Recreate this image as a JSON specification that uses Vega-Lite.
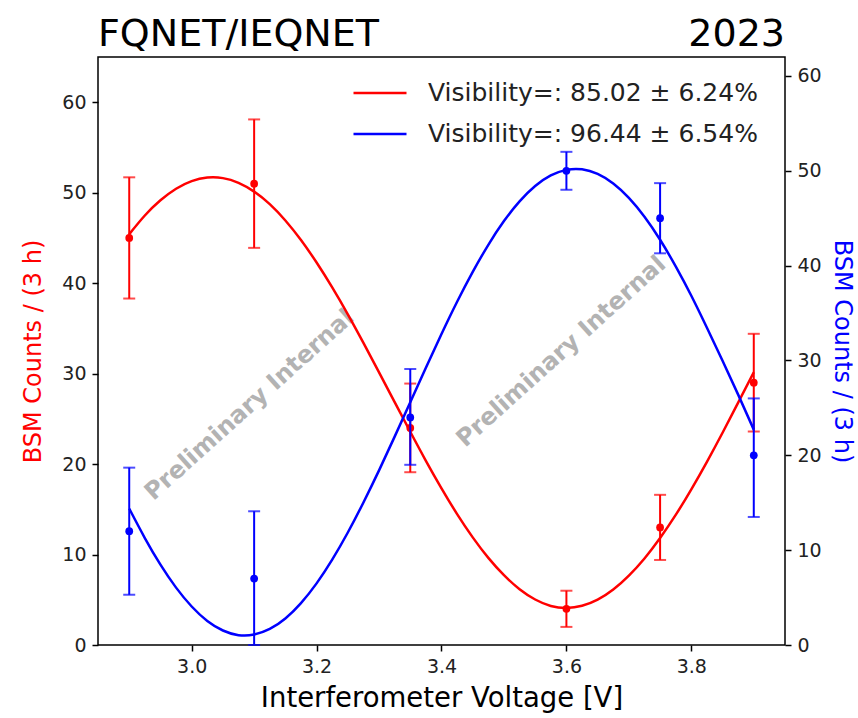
{
  "$schema": "https://vega.github.io/schema/vega-lite/v6.json",
  "width": 687,
  "height": 588,
  "autosize": {"type": "none"},
  "padding": {"left": 98, "top": 57, "right": 73, "bottom": 73},
  "background": "white",
  "config": {
    "font": "DejaVu Sans",
    "view": {"stroke": "black", "strokeWidth": 1.5},
    "axis": {
      "labelFont": "DejaVu Sans",
      "titleFont": "DejaVu Sans",
      "labelFontSize": 19,
      "titleFontWeight": "normal",
      "labelColor": "#222222",
      "tickColor": "black",
      "tickWidth": 1.5,
      "tickSize": 6,
      "domain": false,
      "grid": false
    }
  },
  "datasets": {
    "red_pts": [
      {"x": 2.9, "y": 45, "lo": 38.3, "hi": 51.7},
      {"x": 3.1, "y": 51, "lo": 43.9, "hi": 58.1},
      {"x": 3.35, "y": 24, "lo": 19.1, "hi": 28.9},
      {"x": 3.6, "y": 4, "lo": 2, "hi": 6},
      {"x": 3.75, "y": 13, "lo": 9.4, "hi": 16.6},
      {"x": 3.9, "y": 29, "lo": 23.6, "hi": 34.4}
    ],
    "blue_pts": [
      {"x": 2.9, "y": 12, "lo": 5.3, "hi": 18.7},
      {"x": 3.1, "y": 7, "lo": 0, "hi": 14.1},
      {"x": 3.35, "y": 24, "lo": 19, "hi": 29.1},
      {"x": 3.6, "y": 50, "lo": 48, "hi": 52},
      {"x": 3.75, "y": 45, "lo": 41.3, "hi": 48.7},
      {"x": 3.9, "y": 20, "lo": 13.5, "hi": 26}
    ],
    "red_curve": [
      {"x": 2.9, "y": 45.41, "series": "Visibility=: 85.02 ± 6.24%"},
      {"x": 2.925, "y": 47.48, "series": "Visibility=: 85.02 ± 6.24%"},
      {"x": 2.95, "y": 49.16, "series": "Visibility=: 85.02 ± 6.24%"},
      {"x": 2.975, "y": 50.44, "series": "Visibility=: 85.02 ± 6.24%"},
      {"x": 3.0, "y": 51.28, "series": "Visibility=: 85.02 ± 6.24%"},
      {"x": 3.025, "y": 51.67, "series": "Visibility=: 85.02 ± 6.24%"},
      {"x": 3.05, "y": 51.61, "series": "Visibility=: 85.02 ± 6.24%"},
      {"x": 3.075, "y": 51.09, "series": "Visibility=: 85.02 ± 6.24%"},
      {"x": 3.1, "y": 50.12, "series": "Visibility=: 85.02 ± 6.24%"},
      {"x": 3.125, "y": 48.73, "series": "Visibility=: 85.02 ± 6.24%"},
      {"x": 3.15, "y": 46.93, "series": "Visibility=: 85.02 ± 6.24%"},
      {"x": 3.175, "y": 44.77, "series": "Visibility=: 85.02 ± 6.24%"},
      {"x": 3.2, "y": 42.28, "series": "Visibility=: 85.02 ± 6.24%"},
      {"x": 3.225, "y": 39.53, "series": "Visibility=: 85.02 ± 6.24%"},
      {"x": 3.25, "y": 36.56, "series": "Visibility=: 85.02 ± 6.24%"},
      {"x": 3.275, "y": 33.4, "series": "Visibility=: 85.02 ± 6.24%"},
      {"x": 3.3, "y": 30.14, "series": "Visibility=: 85.02 ± 6.24%"},
      {"x": 3.325, "y": 26.84, "series": "Visibility=: 85.02 ± 6.24%"},
      {"x": 3.35, "y": 23.57, "series": "Visibility=: 85.02 ± 6.24%"},
      {"x": 3.375, "y": 20.36, "series": "Visibility=: 85.02 ± 6.24%"},
      {"x": 3.4, "y": 17.32, "series": "Visibility=: 85.02 ± 6.24%"},
      {"x": 3.425, "y": 14.47, "series": "Visibility=: 85.02 ± 6.24%"},
      {"x": 3.45, "y": 11.9, "series": "Visibility=: 85.02 ± 6.24%"},
      {"x": 3.475, "y": 9.63, "series": "Visibility=: 85.02 ± 6.24%"},
      {"x": 3.5, "y": 7.72, "series": "Visibility=: 85.02 ± 6.24%"},
      {"x": 3.525, "y": 6.17, "series": "Visibility=: 85.02 ± 6.24%"},
      {"x": 3.55, "y": 5.03, "series": "Visibility=: 85.02 ± 6.24%"},
      {"x": 3.575, "y": 4.32, "series": "Visibility=: 85.02 ± 6.24%"},
      {"x": 3.6, "y": 4.1, "series": "Visibility=: 85.02 ± 6.24%"},
      {"x": 3.625, "y": 4.33, "series": "Visibility=: 85.02 ± 6.24%"},
      {"x": 3.65, "y": 5.01, "series": "Visibility=: 85.02 ± 6.24%"},
      {"x": 3.675, "y": 6.13, "series": "Visibility=: 85.02 ± 6.24%"},
      {"x": 3.7, "y": 7.67, "series": "Visibility=: 85.02 ± 6.24%"},
      {"x": 3.725, "y": 9.57, "series": "Visibility=: 85.02 ± 6.24%"},
      {"x": 3.75, "y": 11.83, "series": "Visibility=: 85.02 ± 6.24%"},
      {"x": 3.775, "y": 14.38, "series": "Visibility=: 85.02 ± 6.24%"},
      {"x": 3.8, "y": 17.21, "series": "Visibility=: 85.02 ± 6.24%"},
      {"x": 3.825, "y": 20.25, "series": "Visibility=: 85.02 ± 6.24%"},
      {"x": 3.85, "y": 23.46, "series": "Visibility=: 85.02 ± 6.24%"},
      {"x": 3.875, "y": 26.79, "series": "Visibility=: 85.02 ± 6.24%"},
      {"x": 3.9, "y": 30.15, "series": "Visibility=: 85.02 ± 6.24%"}
    ],
    "blue_curve": [
      {"x": 2.9, "y": 14.38, "series": "Visibility=: 96.44 ± 6.54%"},
      {"x": 2.925, "y": 11.28, "series": "Visibility=: 96.44 ± 6.54%"},
      {"x": 2.95, "y": 8.47, "series": "Visibility=: 96.44 ± 6.54%"},
      {"x": 2.975, "y": 6.05, "series": "Visibility=: 96.44 ± 6.54%"},
      {"x": 3.0, "y": 4.06, "series": "Visibility=: 96.44 ± 6.54%"},
      {"x": 3.025, "y": 2.54, "series": "Visibility=: 96.44 ± 6.54%"},
      {"x": 3.05, "y": 1.53, "series": "Visibility=: 96.44 ± 6.54%"},
      {"x": 3.075, "y": 1.04, "series": "Visibility=: 96.44 ± 6.54%"},
      {"x": 3.1, "y": 1.1, "series": "Visibility=: 96.44 ± 6.54%"},
      {"x": 3.125, "y": 1.69, "series": "Visibility=: 96.44 ± 6.54%"},
      {"x": 3.15, "y": 2.8, "series": "Visibility=: 96.44 ± 6.54%"},
      {"x": 3.175, "y": 4.42, "series": "Visibility=: 96.44 ± 6.54%"},
      {"x": 3.2, "y": 6.5, "series": "Visibility=: 96.44 ± 6.54%"},
      {"x": 3.225, "y": 9.0, "series": "Visibility=: 96.44 ± 6.54%"},
      {"x": 3.25, "y": 11.86, "series": "Visibility=: 96.44 ± 6.54%"},
      {"x": 3.275, "y": 15.03, "series": "Visibility=: 96.44 ± 6.54%"},
      {"x": 3.3, "y": 18.41, "series": "Visibility=: 96.44 ± 6.54%"},
      {"x": 3.325, "y": 21.97, "series": "Visibility=: 96.44 ± 6.54%"},
      {"x": 3.35, "y": 25.6, "series": "Visibility=: 96.44 ± 6.54%"},
      {"x": 3.375, "y": 29.23, "series": "Visibility=: 96.44 ± 6.54%"},
      {"x": 3.4, "y": 32.79, "series": "Visibility=: 96.44 ± 6.54%"},
      {"x": 3.425, "y": 36.19, "series": "Visibility=: 96.44 ± 6.54%"},
      {"x": 3.45, "y": 39.34, "series": "Visibility=: 96.44 ± 6.54%"},
      {"x": 3.475, "y": 42.2, "series": "Visibility=: 96.44 ± 6.54%"},
      {"x": 3.5, "y": 44.7, "series": "Visibility=: 96.44 ± 6.54%"},
      {"x": 3.525, "y": 46.78, "series": "Visibility=: 96.44 ± 6.54%"},
      {"x": 3.55, "y": 48.4, "series": "Visibility=: 96.44 ± 6.54%"},
      {"x": 3.575, "y": 49.51, "series": "Visibility=: 96.44 ± 6.54%"},
      {"x": 3.6, "y": 50.1, "series": "Visibility=: 96.44 ± 6.54%"},
      {"x": 3.625, "y": 50.16, "series": "Visibility=: 96.44 ± 6.54%"},
      {"x": 3.65, "y": 49.67, "series": "Visibility=: 96.44 ± 6.54%"},
      {"x": 3.675, "y": 48.66, "series": "Visibility=: 96.44 ± 6.54%"},
      {"x": 3.7, "y": 47.14, "series": "Visibility=: 96.44 ± 6.54%"},
      {"x": 3.725, "y": 45.15, "series": "Visibility=: 96.44 ± 6.54%"},
      {"x": 3.75, "y": 42.73, "series": "Visibility=: 96.44 ± 6.54%"},
      {"x": 3.775, "y": 39.92, "series": "Visibility=: 96.44 ± 6.54%"},
      {"x": 3.8, "y": 36.82, "series": "Visibility=: 96.44 ± 6.54%"},
      {"x": 3.825, "y": 33.45, "series": "Visibility=: 96.44 ± 6.54%"},
      {"x": 3.85, "y": 29.98, "series": "Visibility=: 96.44 ± 6.54%"},
      {"x": 3.875, "y": 26.4, "series": "Visibility=: 96.44 ± 6.54%"},
      {"x": 3.9, "y": 22.71, "series": "Visibility=: 96.44 ± 6.54%"}
    ],
    "watermark": [
      {"x": 3.093, "y": 26.5, "t": "Preliminary Internal"},
      {"x": 3.592, "y": 32.4, "t": "Preliminary Internal"}
    ],
    "title_left": [{"x": 2.85, "y": 65, "t": "FQNET/IEQNET"}],
    "title_right": [{"x": 3.95, "y": 65, "t": "2023"}]
  },
  "layer": [
    {
      "encoding": {
        "x": {"field": "x", "type": "quantitative", "scale": {"domain": [2.85, 3.95], "nice": false, "zero": false},
          "axis": {"values": [3.0, 3.2, 3.4, 3.6, 3.8], "format": ".1f", "title": "Interferometer Voltage [V]", "titleFontSize": 27.5, "titleColor": "black", "titlePadding": 8, "labelPadding": 6}}
      },
      "layer": [
        {
          "data": {"name": "watermark"},
          "mark": {"type": "text", "angle": 318, "fontSize": 24, "fontWeight": "bold", "color": "#a6a6a6", "opacity": 0.85, "align": "center", "baseline": "middle"},
          "encoding": {
            "y": {"field": "y", "type": "quantitative", "scale": {"domain": [0, 65], "nice": false, "zero": false},
              "axis": {"orient": "left", "values": [0, 10, 20, 30, 40, 50, 60], "title": "BSM Counts / (3 h)", "titleColor": "#ff0000", "titleFontSize": 24, "titlePadding": 16, "labelPadding": 6}},
            "text": {"field": "t"}
          }
        },
        {
          "data": {"name": "title_left"},
          "mark": {"type": "text", "fontSize": 38, "color": "black", "baseline": "alphabetic", "align": "left", "dy": -11},
          "encoding": {
            "y": {"field": "y", "type": "quantitative", "axis": {"orient": "left", "values": [0, 10, 20, 30, 40, 50, 60], "title": "BSM Counts / (3 h)", "titleColor": "#ff0000", "titleFontSize": 24, "titlePadding": 16, "labelPadding": 6}},
            "text": {"field": "t"}
          }
        },
        {
          "data": {"name": "title_right"},
          "mark": {"type": "text", "fontSize": 38, "color": "black", "baseline": "alphabetic", "align": "right", "dy": -11},
          "encoding": {
            "y": {"field": "y", "type": "quantitative", "axis": {"orient": "left", "values": [0, 10, 20, 30, 40, 50, 60], "title": "BSM Counts / (3 h)", "titleColor": "#ff0000", "titleFontSize": 24, "titlePadding": 16, "labelPadding": 6}},
            "text": {"field": "t"}
          }
        },
        {
          "data": {"name": "red_curve"},
          "mark": {"type": "line", "strokeWidth": 2.5, "interpolate": "natural"},
          "encoding": {
            "y": {"field": "y", "type": "quantitative", "axis": {"orient": "left", "values": [0, 10, 20, 30, 40, 50, 60], "title": "BSM Counts / (3 h)", "titleColor": "#ff0000", "titleFontSize": 24, "titlePadding": 16, "labelPadding": 6}},
            "color": {"field": "series", "type": "nominal",
              "scale": {"domain": ["Visibility=: 85.02 ± 6.24%", "Visibility=: 96.44 ± 6.54%"], "range": ["#ff0000", "#0000ff"]},
              "legend": {"orient": "none", "legendX": 254, "legendY": 8, "title": null, "labelFontSize": 25, "labelColor": "#222222", "labelFont": "DejaVu Sans", "labelLimit": 500, "symbolType": "stroke", "symbolSize": 2809, "symbolStrokeWidth": 2.5, "rowPadding": -13, "labelOffset": 20}}
          }
        },
        {
          "data": {"name": "red_pts"},
          "mark": {"type": "rule", "color": "#ff0000", "strokeWidth": 2},
          "encoding": {
            "y": {"field": "lo", "type": "quantitative", "axis": {"orient": "left", "values": [0, 10, 20, 30, 40, 50, 60], "title": "BSM Counts / (3 h)", "titleColor": "#ff0000", "titleFontSize": 24, "titlePadding": 16, "labelPadding": 6}},
            "y2": {"field": "hi"}
          }
        },
        {
          "data": {"name": "red_pts"},
          "mark": {"type": "tick", "color": "#ff0000", "orient": "horizontal", "size": 12, "thickness": 2},
          "encoding": {
            "y": {"field": "lo", "type": "quantitative", "axis": {"orient": "left", "values": [0, 10, 20, 30, 40, 50, 60], "title": "BSM Counts / (3 h)", "titleColor": "#ff0000", "titleFontSize": 24, "titlePadding": 16, "labelPadding": 6}}
          }
        },
        {
          "data": {"name": "red_pts"},
          "mark": {"type": "tick", "color": "#ff0000", "orient": "horizontal", "size": 12, "thickness": 2},
          "encoding": {
            "y": {"field": "hi", "type": "quantitative", "axis": {"orient": "left", "values": [0, 10, 20, 30, 40, 50, 60], "title": "BSM Counts / (3 h)", "titleColor": "#ff0000", "titleFontSize": 24, "titlePadding": 16, "labelPadding": 6}}
          }
        },
        {
          "data": {"name": "red_pts"},
          "mark": {"type": "circle", "color": "#ff0000", "opacity": 1, "size": 60},
          "encoding": {
            "y": {"field": "y", "type": "quantitative", "axis": {"orient": "left", "values": [0, 10, 20, 30, 40, 50, 60], "title": "BSM Counts / (3 h)", "titleColor": "#ff0000", "titleFontSize": 24, "titlePadding": 16, "labelPadding": 6}}
          }
        }
      ]
    },
    {
      "encoding": {
        "x": {"field": "x", "type": "quantitative", "scale": {"domain": [2.85, 3.95], "nice": false, "zero": false},
          "axis": {"values": [3.0, 3.2, 3.4, 3.6, 3.8], "format": ".1f", "title": "Interferometer Voltage [V]", "titleFontSize": 27.5, "titleColor": "black", "titlePadding": 8, "labelPadding": 6}}
      },
      "layer": [
        {
          "data": {"name": "blue_curve"},
          "mark": {"type": "line", "strokeWidth": 2.5, "interpolate": "natural"},
          "encoding": {
            "y": {"field": "y", "type": "quantitative", "scale": {"domain": [0, 62], "nice": false, "zero": false},
              "axis": {"orient": "right", "values": [0, 10, 20, 30, 40, 50, 60], "title": "BSM Counts / (3 h)", "titleColor": "#0000ff", "titleFontSize": 24, "titlePadding": 8, "labelPadding": 6}},
            "color": {"field": "series", "type": "nominal",
              "scale": {"domain": ["Visibility=: 85.02 ± 6.24%", "Visibility=: 96.44 ± 6.54%"], "range": ["#ff0000", "#0000ff"]},
              "legend": {"orient": "none", "legendX": 254, "legendY": 8, "title": null, "labelFontSize": 25, "labelColor": "#222222", "labelFont": "DejaVu Sans", "labelLimit": 500, "symbolType": "stroke", "symbolSize": 2809, "symbolStrokeWidth": 2.5, "rowPadding": -13, "labelOffset": 20}}
          }
        },
        {
          "data": {"name": "blue_pts"},
          "mark": {"type": "rule", "color": "#0000ff", "strokeWidth": 2},
          "encoding": {
            "y": {"field": "lo", "type": "quantitative", "axis": {"orient": "right", "values": [0, 10, 20, 30, 40, 50, 60], "title": "BSM Counts / (3 h)", "titleColor": "#0000ff", "titleFontSize": 24, "titlePadding": 8, "labelPadding": 6}},
            "y2": {"field": "hi"}
          }
        },
        {
          "data": {"name": "blue_pts"},
          "mark": {"type": "tick", "color": "#0000ff", "orient": "horizontal", "size": 12, "thickness": 2},
          "encoding": {
            "y": {"field": "lo", "type": "quantitative", "axis": {"orient": "right", "values": [0, 10, 20, 30, 40, 50, 60], "title": "BSM Counts / (3 h)", "titleColor": "#0000ff", "titleFontSize": 24, "titlePadding": 8, "labelPadding": 6}}
          }
        },
        {
          "data": {"name": "blue_pts"},
          "mark": {"type": "tick", "color": "#0000ff", "orient": "horizontal", "size": 12, "thickness": 2},
          "encoding": {
            "y": {"field": "hi", "type": "quantitative", "axis": {"orient": "right", "values": [0, 10, 20, 30, 40, 50, 60], "title": "BSM Counts / (3 h)", "titleColor": "#0000ff", "titleFontSize": 24, "titlePadding": 8, "labelPadding": 6}}
          }
        },
        {
          "data": {"name": "blue_pts"},
          "mark": {"type": "circle", "color": "#0000ff", "opacity": 1, "size": 60},
          "encoding": {
            "y": {"field": "y", "type": "quantitative", "axis": {"orient": "right", "values": [0, 10, 20, 30, 40, 50, 60], "title": "BSM Counts / (3 h)", "titleColor": "#0000ff", "titleFontSize": 24, "titlePadding": 8, "labelPadding": 6}}
          }
        }
      ]
    }
  ],
  "resolve": {"scale": {"y": "independent"}}
}
